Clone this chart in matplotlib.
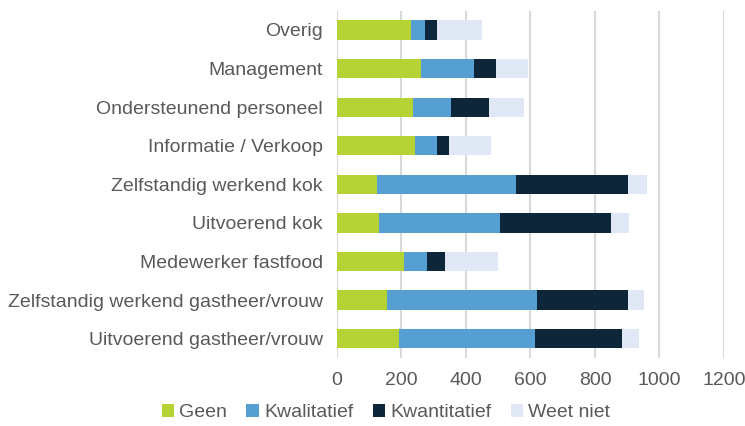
import numpy as np
import matplotlib.pyplot as plt

plt.rcParams['font.family'] = ['Liberation Sans', 'DejaVu Sans']

# categories listed bottom to top
functies = [
    'Uitvoerend gastheer/vrouw',
    'Zelfstandig werkend gastheer/vrouw',
    'Medewerker fastfood',
    'Uitvoerend kok',
    'Zelfstandig werkend kok',
    'Informatie / Verkoop',
    'Ondersteunend personeel',
    'Management',
    'Overig',
]
geen = [191, 154, 207, 130, 125, 241, 237, 260, 231]
kwalitatief = [422, 467, 71, 374, 429, 69, 116, 165, 43]
kwantitatief = [271, 281, 56, 345, 348, 37, 117, 68, 35]
weet_niet = [51, 51, 164, 56, 58, 131, 109, 98, 141]

series = [
    ('Geen', geen, '#B5D334'),
    ('Kwalitatief', kwalitatief, '#569FD3'),
    ('Kwantitatief', kwantitatief, '#0E263A'),
    ('Weet niet', weet_niet, '#E1E8F5'),
]

text_color = '#595959'

fig = plt.figure(figsize=(7.45, 4.26), dpi=100)
ax = fig.add_axes([0.4523, 0.1596, 0.5195, 0.8153])

y = np.arange(len(functies))
left = np.zeros(len(functies))
for name, vals, color in series:
    vals = np.array(vals, dtype=float)
    ax.barh(y, vals, left=left, height=0.5, color=color, label=name, zorder=3)
    left += vals

ax.set_xlim(0, 1200)
ax.set_ylim(-0.5, len(functies) - 0.5)
ax.set_xticks(np.arange(0, 1201, 200))
ax.set_yticks(y)
ax.set_yticklabels(functies)
ax.tick_params(axis='both', length=0, colors=text_color, labelsize=14)
ax.tick_params(axis='x', pad=10)
ax.tick_params(axis='y', pad=10)
ax.grid(axis='x', color='#D9D9D9', linewidth=1.5, zorder=0)
for s in ax.spines.values():
    s.set_visible(False)

fig.legend(loc='lower center', bbox_to_anchor=(0.518, -0.03), ncol=4, frameon=False,
           fontsize=14, labelcolor=text_color, handlelength=0.65, handleheight=0.65,
           handletextpad=0.25, columnspacing=1.0)

fig.savefig('out.png', dpi=100)
